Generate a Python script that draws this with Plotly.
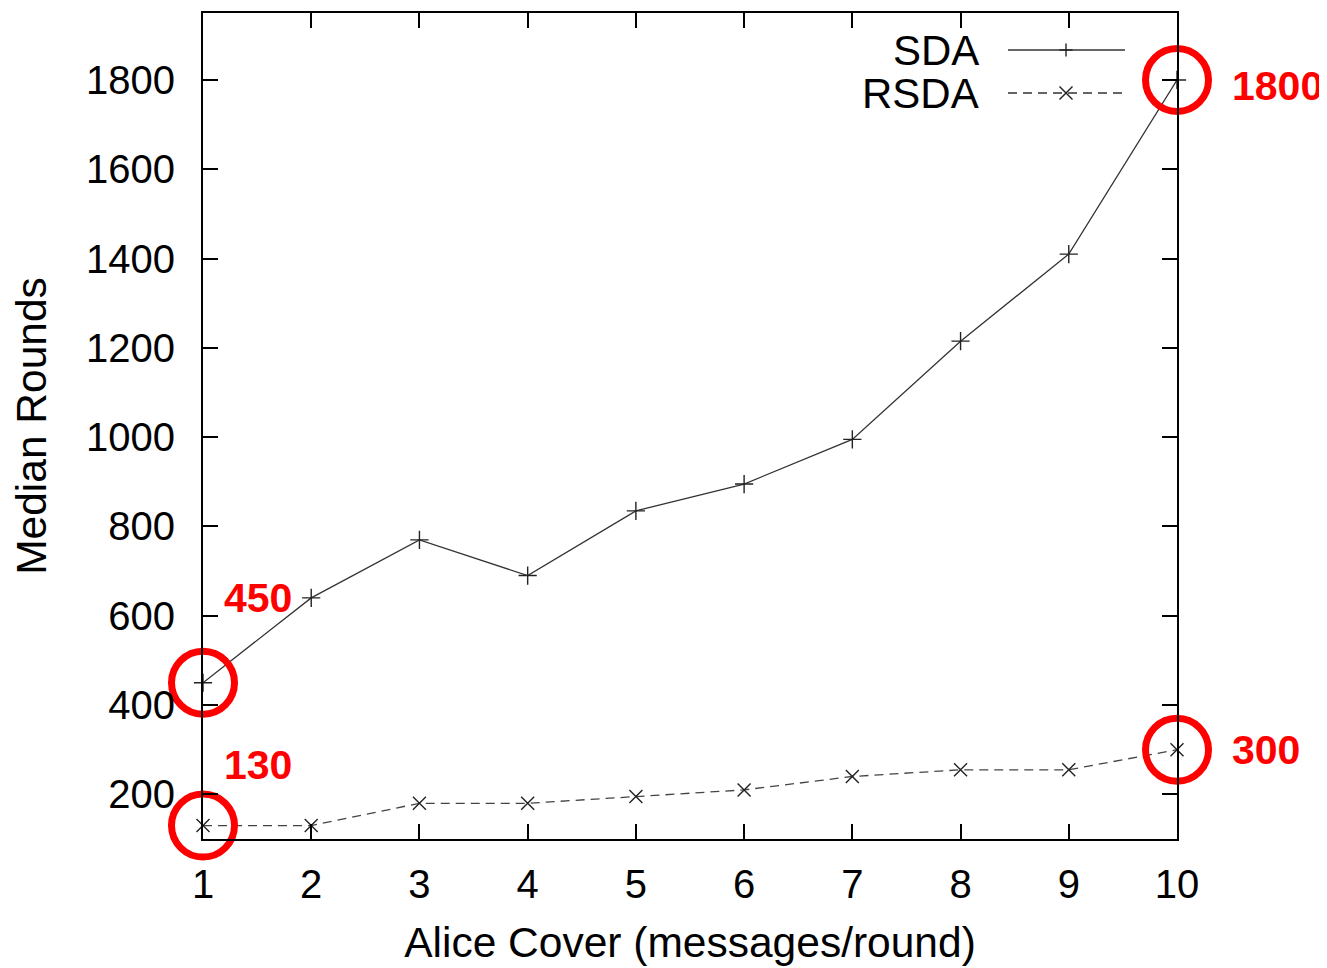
import plotly.graph_objects as go

x_vals = [1, 2, 3, 4, 5, 6, 7, 8, 9, 10]
sda = [450, 640, 770, 690, 835, 895, 995, 1215, 1410, 1800]
rsda = [130, 130, 180, 180, 195, 210, 240, 255, 255, 300]

hl_x = [1, 1, 10, 10]
hl_y = [450, 130, 1800, 300]
hl_labels = ["450", "130", "1800", "300"]

y_ticks = [200, 400, 600, 800, 1000, 1200, 1400, 1600, 1800]

FONT = "Liberation Sans, Arial, Helvetica, sans-serif"
W, H = 1327, 968
OFF = 8  # default page body margin
X0, X1, Y0, Y1 = 203, 1177, 13, 839  # plot area in screen pixels
L, T = X0 - OFF, Y0 - OFF
R, B = W - (X1 - OFF), H - (Y1 - OFF)
PW, PH = X1 - X0, Y1 - Y0

def px(xs):
    return (xs - X0) / PW

def py(ys):
    return (Y1 - ys) / PH

fig = go.Figure()
fig.add_trace(go.Scatter(
    x=x_vals, y=sda, mode="lines+markers", name="SDA",
    line=dict(color="#333333", width=1.3),
    marker=dict(symbol="cross-thin-open", size=13, color="#222222",
                line=dict(color="#222222", width=1.4)),
    cliponaxis=False, showlegend=False))
fig.add_trace(go.Scatter(
    x=x_vals, y=rsda, mode="lines+markers", name="RSDA",
    line=dict(color="#444444", width=1.3, dash="9px,6px"),
    marker=dict(symbol="x-thin-open", size=13, color="#222222",
                line=dict(color="#222222", width=1.4)),
    cliponaxis=False, showlegend=False))
fig.add_trace(go.Scatter(
    x=hl_x, y=hl_y, mode="markers",
    marker=dict(symbol="circle-open", size=63, color="#ff0000",
                line=dict(color="#ff0000", width=7)),
    cliponaxis=False, showlegend=False, hoverinfo="skip"))

# value labels for highlighted points
shifts = [(19, 85), (19, 61), (53, -6), (53, 0)]
for xv, yv, lab, (dx, dy) in zip(hl_x, hl_y, hl_labels, shifts):
    fig.add_annotation(x=xv, y=yv, text="<b>%s</b>" % lab, showarrow=False,
                       xanchor="left", yanchor="middle", xshift=dx, yshift=dy,
                       font=dict(family=FONT, size=41, color="#ff0000"))

# manual legend (text left of sample)
legend_rows = [("SDA", 50, "solid", "plus"), ("RSDA", 93, "dash", "x")]
for name, yrow, dash, sym in legend_rows:
    fig.add_annotation(xref="paper", yref="paper", x=px(981), y=py(yrow),
                       text=name, showarrow=False, xanchor="right", yanchor="middle",
                       font=dict(family=FONT, size=42, color="black"))
    fig.add_shape(type="line", xref="paper", yref="paper",
                  x0=px(1008), x1=px(1125), y0=py(yrow), y1=py(yrow),
                  line=dict(color="#333333", width=1.3,
                            dash="solid" if dash == "solid" else "9px,6px"))
    cx, cy = px(1066), py(yrow)
    if sym == "plus":
        segs = [(-6.5, 0, 6.5, 0), (0, -6.5, 0, 6.5)]
    else:
        segs = [(-6.5, -6.5, 6.5, 6.5), (-6.5, 6.5, 6.5, -6.5)]
    for a, b, c, d in segs:
        fig.add_shape(type="line", xref="paper", yref="paper",
                      xsizemode="pixel", ysizemode="pixel", xanchor=cx, yanchor=cy,
                      x0=a, y0=b, x1=c, y1=d,
                      line=dict(color="#222222", width=1.4))

axis_common = dict(showgrid=False, zeroline=False, showline=True, linecolor="black",
                   linewidth=2, mirror="ticks", ticks="inside", ticklen=15,
                   tickwidth=2, tickcolor="black",
                   tickfont=dict(family=FONT, size=40, color="black"))

fig.update_xaxes(range=[1, 10], tickvals=x_vals, ticklabelstandoff=9,
                 title=dict(text="Alice Cover (messages/round)", standoff=22,
                            font=dict(family=FONT, size=42.5, color="black")),
                 **axis_common)
fig.update_yaxes(range=[100, 1950], tickvals=y_ticks, ticklabelstandoff=18,
                 title=dict(text="Median Rounds", standoff=32,
                            font=dict(family=FONT, size=42.5, color="black")),
                 **axis_common)

fig.update_layout(width=W, height=H,
                  margin=dict(l=L, r=R, t=T, b=B, autoexpand=False),
                  plot_bgcolor="white", paper_bgcolor="white",
                  font=dict(family=FONT, color="black"))

fig.write_html("out.html")
